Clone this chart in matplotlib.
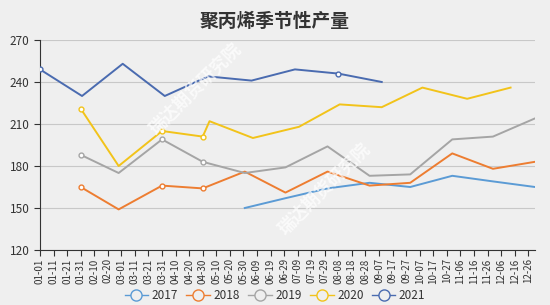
import matplotlib

matplotlib.use("Agg")
import matplotlib.pyplot as plt
import numpy as np
from datetime import date, timedelta
from matplotlib.lines import Line2D

plt.rcParams["font.family"] = ["Noto Sans CJK SC", "DejaVu Sans"]

# x positions are day offsets from 01-01 on a leap-year calendar
days_2017 = [151, 181, 212, 243, 273, 304, 334, 365]
vals_2017 = [150, 157, 164, 168, 165, 173, 169, 165]

days_2018 = [30, 58, 90, 120, 151, 181, 212, 243, 273, 304, 334, 365]
vals_2018 = [165, 149, 166, 164, 176, 161, 176, 166, 168, 189, 178, 183]

days_2019 = [30, 58, 90, 120, 151, 181, 212, 243, 273, 304, 334, 365]
vals_2019 = [188, 175, 199, 183, 175, 179, 194, 173, 174, 199, 201, 214]

days_2020 = [30, 58, 90, 120, 125, 157, 191, 221, 252, 282, 315, 347]
vals_2020 = [221, 180, 205, 201, 212, 200, 208, 224, 222, 236, 228, 236]

days_2021 = [0, 31, 61, 92, 124, 156, 188, 220, 252]
vals_2021 = [249, 230, 253, 230, 244, 241, 249, 246, 240]

series = [
    ("2017", days_2017, vals_2017, "#5b9bd5"),
    ("2018", days_2018, vals_2018, "#ed7d31"),
    ("2019", days_2019, vals_2019, "#a5a5a5"),
    ("2020", days_2020, vals_2020, "#f2c31a"),
    ("2021", days_2021, vals_2021, "#4a6bb0"),
]

BG = "#efefef"
start = date(2020, 1, 1)
tick_days = list(range(0, 361, 10))
tick_labels = [(start + timedelta(days=d)).strftime("%m-%d") for d in tick_days]

fig = plt.figure(figsize=(5.5, 3.05), dpi=100, facecolor=BG)
ax = fig.add_axes([0.0727, 0.1803, 0.9, 0.6886], facecolor=BG)

for name, d, v, c in series:
    d = np.array(d)
    ax.plot(d, v, color=c, lw=1.4, zorder=3)
    mark = d % 10 == 0
    ax.plot(d[mark], np.array(v)[mark], ls="none", marker="o", ms=3.5,
            mfc="white", mec=c, mew=1, zorder=4)

ax.set_xlim(0, 365)
ax.set_ylim(120, 270)
ax.set_yticks(range(120, 271, 30))
ax.set_xticks(tick_days)
ax.set_xticklabels(tick_labels, rotation=90, fontsize=7, color="#333333")
ax.tick_params(axis="y", labelsize=8.5, colors="#333333", length=4)
ax.tick_params(axis="x", length=4, colors="#333333", pad=2)
ax.yaxis.grid(True, color="#c8c8c8", lw=0.8)
ax.set_axisbelow(True)
for s in ("top", "right"):
    ax.spines[s].set_visible(False)
for s in ("left", "bottom"):
    ax.spines[s].set_color("#333333")

fig.text(0.5, 0.93, "聚丙烯季节性产量", ha="center", va="center",
         fontsize=13.5, fontweight="bold", color="#333333")

# watermark
for x, y in ((0.355, 0.71), (0.59, 0.38)):
    fig.text(x, y, "瑞达期货研究院", rotation=45, ha="center", va="center",
             fontsize=12.5, color="white", alpha=0.7, fontweight="bold")

handles = [Line2D([], [], color=c, lw=1, marker="o", ms=8, mfc=BG, mec=c)
           for _, _, _, c in series]
fig.legend(handles, [s[0] for s in series], loc="center", bbox_to_anchor=(0.5, 0.03),
           ncol=5, frameon=False, fontsize=8.5, handlelength=2.0, columnspacing=0.7,
           handletextpad=0.3, labelcolor="#333333")

fig.savefig("out.png", dpi=100, facecolor=BG)
